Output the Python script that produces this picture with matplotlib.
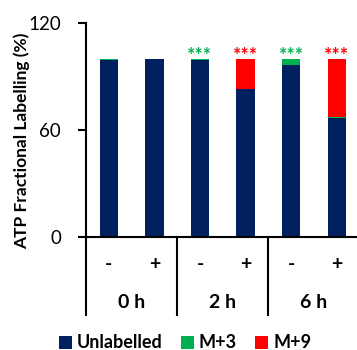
import numpy as np
import matplotlib.pyplot as plt
import matplotlib.transforms as mtransforms

plt.rcParams['font.family'] = ['Lato', 'DejaVu Sans']

# data
conditions = ['-', '+', '-', '+', '-', '+']
timepoints = ['0 h', '2 h', '6 h']
unlabelled = [99.4, 100.0, 99.0, 83.2, 96.4, 66.5]
m3 = [0.6, 0.0, 1.0, 0.0, 3.6, 0.7]
m9 = [0.0, 0.0, 0.0, 16.8, 0.0, 32.8]
stars = ['', '', '***', '***', '***', '***']
star_colors = ['k', 'k', '#00B050', '#FF0000', '#00B050', '#FF0000']

c_unl = '#002060'
c_m3 = '#00B050'
c_m9 = '#FF0000'

fig = plt.figure(figsize=(3.57, 3.5), dpi=100)
ax = fig.add_axes([86 / 357, 1 - 236.7 / 350, 273.6 / 357, 213.7 / 350])

x = np.arange(len(conditions))
w = 0.4
ax.bar(x, unlabelled, w, color=c_unl, label='Unlabelled')
ax.bar(x, m3, w, bottom=unlabelled, color=c_m3, label='M+3')
bot = np.array(unlabelled) + np.array(m3)
ax.bar(x, m9, w, bottom=bot, color=c_m9, label='M+9')

for i, s in enumerate(stars):
    if s:
        ax.text(x[i], 97, s, ha='center', va='bottom', color=star_colors[i],
                fontsize=14, fontweight='bold')

ax.set_xlim(-0.5, 5.5)
ax.set_ylim(0, 120)
ax.set_yticks([0, 60, 120])
ax.tick_params(axis='y', length=6, width=1.5, pad=12, labelsize=13.5)
ax.set_xticks([])
ax.spines['top'].set_visible(False)
ax.spines['right'].set_visible(False)
ax.spines['left'].set_linewidth(1.5)
ax.spines['bottom'].set_linewidth(1.5)

ax.set_ylabel('ATP Fractional Labelling (%)', fontsize=12.5, fontweight='bold')
ax.yaxis.set_label_coords(-0.205, 0.448)

# category labels under the axis
trans = mtransforms.blended_transform_factory(ax.transData, ax.transAxes)
for i, c in enumerate(conditions):
    ax.text(x[i], -0.13, c, transform=trans, ha='center', va='center',
            fontsize=14, fontweight='bold')
for j, t in enumerate(timepoints):
    ax.text(2 * j + 0.5, -0.31, t, transform=trans, ha='center', va='center',
            fontsize=14, fontweight='bold')
for sep in [-0.5, 1.5, 3.5, 5.5]:
    ax.plot([sep, sep], [0, -0.367], transform=trans, color='k', lw=1.5,
            clip_on=False)

fig.legend(loc='center', bbox_to_anchor=(0.518, 1 - 343 / 350), ncol=3,
           frameon=False, handlelength=0.75, handleheight=0.75, handletextpad=0.25,
           columnspacing=1.0, borderaxespad=0, borderpad=0,
           prop={'weight': 'bold', 'size': 13})

fig.savefig('out.png', dpi=100)
